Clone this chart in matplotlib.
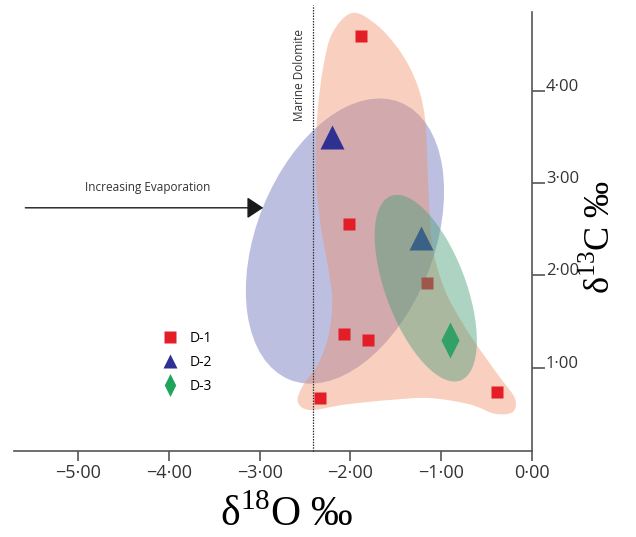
import matplotlib
matplotlib.use("Agg")
import matplotlib.pyplot as plt
from matplotlib.patches import Ellipse, PathPatch
from matplotlib.path import Path
from matplotlib.lines import Line2D

plt.rcParams['font.family'] = ['Open Sans', 'DejaVu Sans']
plt.rcParams['mathtext.fontset'] = 'custom'
plt.rcParams['mathtext.rm'] = 'Liberation Serif'

# sample values (d18O, d13C)
d1_x = [-1.88, -2.02, -1.16, -2.07, -1.81, -2.33, -0.39]
d1_y = [4.59, 2.55, 1.92, 1.36, 1.30, 0.67, 0.74]
d2_x = [-2.20, -1.22]
d2_y = [3.50, 2.40]
d3_x = [-0.90]
d3_y = [1.30]

xticks = [-5, -4, -3, -2, -1, 0]
yticks = [1, 2, 3, 4]
marine_dolomite = -2.41

# outline of the D-1 field
d1_field_x = [-1.98, -1.71, -1.45, -1.27, -1.18, -1.15, -1.13, -1.09, -0.96, -0.77,
              -0.57, -0.35, -0.19, -0.21, -0.41, -0.68, -1.12, -1.56, -2.06, -2.44,
              -2.58, -2.52, -2.36, -2.24, -2.20, -2.25, -2.32, -2.37, -2.38, -2.36,
              -2.30, -2.20]
d1_field_y = [4.84, 4.71, 4.42, 4.08, 3.71, 3.17, 2.71, 2.27, 1.84, 1.49,
              1.19, 0.89, 0.67, 0.52, 0.50, 0.60, 0.67, 0.65, 0.60, 0.54,
              0.63, 0.81, 1.03, 1.35, 1.73, 2.11, 2.49, 2.92, 3.35, 3.79,
              4.25, 4.62]


def smooth_closed(xs, ys):
    # catmull-rom through the outline -> cubic bezier path
    n = len(xs)
    verts = [(xs[0], ys[0])]
    codes = [Path.MOVETO]
    for i in range(n):
        p0 = (xs[i - 1], ys[i - 1])
        p1 = (xs[i], ys[i])
        p2 = (xs[(i + 1) % n], ys[(i + 1) % n])
        p3 = (xs[(i + 2) % n], ys[(i + 2) % n])
        c1 = (p1[0] + (p2[0] - p0[0]) / 6, p1[1] + (p2[1] - p0[1]) / 6)
        c2 = (p2[0] - (p3[0] - p1[0]) / 6, p2[1] - (p3[1] - p1[1]) / 6)
        verts += [c1, c2, p2]
        codes += [Path.CURVE4] * 3
    return Path(verts, codes)


fig = plt.figure(figsize=(6.36, 5.37), dpi=100)
ax = fig.add_axes([14 / 636, 86 / 537, 518 / 636, 439 / 537])

# fields
ax.add_patch(Ellipse((-2.06, 2.37), 3.24, 1.95, angle=67.7,
                     fc='#5c5fb3', ec='none', alpha=0.4, zorder=1))
ax.add_patch(PathPatch(smooth_closed(d1_field_x, d1_field_y),
                       fc='#f2895f', ec='none', alpha=0.4, zorder=2, clip_on=False))
ax.add_patch(Ellipse((-1.17, 1.86), 2.14, 0.88, angle=111.1,
                     fc='#4a9e78', ec='none', alpha=0.45, zorder=4))

diamond = Path([(0, 1), (0.5, 0), (0, -1), (-0.5, 0), (0, 1)],
               [Path.MOVETO, Path.LINETO, Path.LINETO, Path.LINETO, Path.CLOSEPOLY])

ax.plot(d1_x, d1_y, ls='none', marker='s', ms=8.6, color='#e41e26', mec='none', zorder=3)
ax.plot(d2_x, d2_y, ls='none', marker='^', ms=17, color='#2e3192', mec='none', zorder=3)
ax.plot(d3_x, d3_y, ls='none', marker=diamond, ms=26, color='#1fa55b', mec='none', zorder=3)

ax.axvline(marine_dolomite, ymin=0, ymax=1.016, color='#333333', lw=0.9,
           ls=(0, (1.2, 1.0)), clip_on=False, zorder=5)
ax.text(-2.56, 4.17, 'Marine Dolomite', rotation=90, ha='center', va='center',
        fontsize=8.5, color='#333333')

ax.annotate('', xy=(-2.96, 2.73), xytext=(-5.58, 2.73),
            arrowprops=dict(arrowstyle='-|>,head_length=0.5,head_width=0.33',
                            mutation_scale=20, lw=1.0, color='#1a1a1a',
                            shrinkA=0, shrinkB=0))
ax.text(-4.23, 2.95, 'Increasing Evaporation', ha='center', va='center',
        fontsize=8.5, color='#333333')

ax.set_xlim(-5.705, 0)
ax.set_ylim(0.097, 4.85)

for s in ['top', 'left']:
    ax.spines[s].set_visible(False)
for s in ['bottom', 'right']:
    ax.spines[s].set_color('#555555')
    ax.spines[s].set_linewidth(1.2)

ax.yaxis.tick_right()
ax.yaxis.set_label_position('right')
ax.set_xticks(xticks)
ax.set_xticklabels(['\u2212%d\u00b700' % abs(v) if v < 0 else '0\u00b700' for v in xticks])
ax.set_yticks(yticks)
ax.set_yticklabels(['%d\u00b700' % v for v in yticks])
ax.tick_params(axis='x', direction='out', length=7, width=1.2, color='#555555',
               labelsize=13, labelcolor='#333333', pad=2)
ax.tick_params(axis='y', direction='out', length=9, width=1.2, color='#555555',
               labelsize=12, labelcolor='#333333', pad=1)
for lab in ax.get_yticklabels():
    lab.set_verticalalignment('baseline')

ax.set_xlabel('\u03b4$^{\\mathrm{18}}$O \u2030', fontsize=30,
              family='Liberation Serif', va='top')
ax.xaxis.set_label_coords(0.527, -0.102)
ax.set_ylabel('\u03b4$^{\\mathrm{13}}$C \u2030', fontsize=26,
              family='Liberation Serif', rotation=90, va='center', ha='center')
ax.yaxis.set_label_coords(1.131, 0.487)

handles = [
    Line2D([], [], ls='none', marker='s', ms=8.6, color='#e41e26', mec='none'),
    Line2D([], [], ls='none', marker='^', ms=10, color='#2e3192', mec='none'),
    Line2D([], [], ls='none', marker=diamond, ms=16.5, color='#1fa55b', mec='none'),
]
ax.legend(handles, ['D-1', 'D-2', 'D-3'], loc='upper left',
          bbox_to_anchor=(163 / 636, 206 / 537), bbox_transform=fig.transFigure,
          frameon=False, fontsize=10, borderpad=0, borderaxespad=0,
          handlelength=1.0, handletextpad=0.94, labelspacing=0.65)

fig.savefig('out.png', dpi=100)
